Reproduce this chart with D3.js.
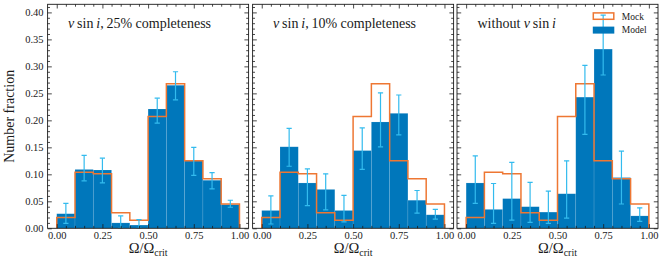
<!DOCTYPE html>
<html>
<head>
<meta charset="utf-8">
<script src="https://cdn.jsdelivr.net/npm/d3@7"></script>
<style>
  body { margin: 0; background: #fff; }
  svg { display: block; }
  text { font-family: "Liberation Serif", "DejaVu Serif", serif; fill: #1a1a1a; }
  .tick line { stroke: #1a1a1a; stroke-width: 0.8; }
  .domain { display: none; }
</style>
</head>
<body>
<script>
// bin edges and centres (Omega / Omega_crit)
var binEdges = [0.0, 0.1, 0.2, 0.3, 0.4, 0.5, 0.6, 0.7, 0.8, 0.9, 1.0];
var binCenters = [0.05, 0.15, 0.25, 0.35, 0.45, 0.55, 0.65, 0.75, 0.85, 0.95];

// mock distribution (same in every panel)
var mock = [0.020, 0.104, 0.101, 0.029, 0.015, 0.207, 0.268, 0.125, 0.092, 0.045];

// panel 1: v sin i, 25% completeness
var model25 = [0.027, 0.109, 0.108, 0.010, 0.006, 0.221, 0.265, 0.125, 0.089, 0.044];
var lo25 = [0.009, 0.088, 0.084, 0.000, 0.000, 0.195, 0.238, 0.098, 0.073, 0.039];
var hi25 = [0.046, 0.135, 0.130, 0.023, 0.016, 0.241, 0.290, 0.150, 0.103, 0.052];

// panel 2: v sin i, 10% completeness
var model10 = [0.033, 0.151, 0.084, 0.072, 0.033, 0.144, 0.197, 0.213, 0.052, 0.025];
var lo10 = [0.008, 0.115, 0.042, 0.034, 0.012, 0.109, 0.151, 0.173, 0.028, 0.017];
var hi10 = [0.060, 0.185, 0.110, 0.101, 0.061, 0.186, 0.251, 0.247, 0.070, 0.035];

// panel 3: without v sin i
var modelNo = [0.084, 0.035, 0.055, 0.040, 0.030, 0.064, 0.243, 0.332, 0.094, 0.023];
var loNo = [0.046, 0.009, 0.015, 0.011, 0.009, 0.019, 0.174, 0.284, 0.045, 0.013];
var hiNo = [0.134, 0.083, 0.122, 0.085, 0.069, 0.125, 0.302, 0.395, 0.143, 0.038];

var xMajor = [0.0, 0.25, 0.5, 0.75, 1.0];
var yMajor = [0.0, 0.05, 0.10, 0.15, 0.20, 0.25, 0.30, 0.35, 0.40];

var blue = "#0077BB", orange = "#EE7733", cyan = "#33BBEE";

var w = 664, h = 267;
var plotTop = 4.3, plotBottom = 228.3;
var panelW = 201;
var panels = [
  {left: 47.6, title: "25", model: model25, lo: lo25, hi: hi25, labels: true},
  {left: 252.6, title: "10", model: model10, lo: lo10, hi: hi10, labels: false},
  {left: 457, title: null, model: modelNo, lo: loNo, hi: hiNo, labels: false, legend: true}
];

var svg = d3.select("body").append("svg")
  .attr("width", w)
  .attr("height", h);

var y = d3.scaleLinear().domain([0, 0.415]).range([plotBottom, plotTop]);

var xMinor = d3.range(0, 21).map(function(i){ return i * 0.05; })
  .filter(function(v){ return Math.abs(v / 0.25 - Math.round(v / 0.25)) > 1e-6; });
var yMinor = d3.range(0, 42).map(function(i){ return i * 0.01; })
  .filter(function(v){ return Math.abs(v / 0.05 - Math.round(v / 0.05)) > 1e-6; });

panels.forEach(function(p, pi){
  var x = d3.scaleLinear().domain([-0.05, 1.05]).range([p.left, p.left + panelW]);
  var g = svg.append("g");

  g.append("defs").append("clipPath").attr("id", "clip" + pi)
    .append("rect").attr("x", p.left).attr("y", plotTop)
    .attr("width", panelW).attr("height", plotBottom - plotTop);

  var plot = g.append("g").attr("clip-path", "url(#clip" + pi + ")");

  // model bars
  plot.selectAll(".bar")
    .data(p.model)
    .enter()
      .append("rect")
      .attr("x", function(d, i){ return x(binEdges[i]); })
      .attr("width", function(d, i){ return x(binEdges[i + 1]) - x(binEdges[i]); })
      .attr("y", function(d){ return y(d); })
      .attr("height", function(d){ return y(0) - y(d); })
      .attr("fill", blue)
      .attr("stroke", "rgba(255,255,255,0.18)")
      .attr("stroke-width", 0.6);

  // mock step outline
  var pts = [[binEdges[0], 0]];
  mock.forEach(function(v, i){
    pts.push([binEdges[i], v]);
    pts.push([binEdges[i + 1], v]);
  });
  pts.push([binEdges[binEdges.length - 1], 0]);
  var line = d3.line()
    .x(function(d){ return x(d[0]); })
    .y(function(d){ return y(d[1]); });
  plot.append("path")
    .attr("d", line(pts))
    .attr("fill", "none")
    .attr("stroke", orange)
    .attr("stroke-width", 1.5)
    .attr("stroke-linejoin", "miter");

  // error bars
  var eb = plot.selectAll(".eb")
    .data(binCenters)
    .enter()
      .append("g");
  eb.append("line")
    .attr("x1", function(d){ return x(d); })
    .attr("x2", function(d){ return x(d); })
    .attr("y1", function(d, i){ return y(p.lo[i]); })
    .attr("y2", function(d, i){ return y(p.hi[i]); })
    .attr("stroke", cyan)
    .attr("stroke-width", 1.2);
  [p.lo, p.hi].forEach(function(arr){
    eb.append("line")
      .attr("x1", function(d){ return x(d) - 2.6; })
      .attr("x2", function(d){ return x(d) + 2.6; })
      .attr("y1", function(d, i){ return y(arr[i]); })
      .attr("y2", function(d, i){ return y(arr[i]); })
      .attr("stroke", cyan)
      .attr("stroke-width", 1.2);
  });

  // axes (inward ticks on all four sides)
  function addAxis(axisFn, scale, major, minor, transform, labels, fmt){
    g.append("g").attr("transform", transform)
      .call(axisFn(scale).tickValues(minor).tickSizeInner(-2.4).tickSizeOuter(0).tickFormat(""));
    var a = g.append("g").attr("transform", transform)
      .call(axisFn(scale).tickValues(major).tickSizeInner(-4.2).tickSizeOuter(0)
        .tickPadding(4).tickFormat(labels ? fmt : ""));
    a.selectAll("text")
      .style("font-size", "10.5px")
      .style("font-family", "'Liberation Serif', serif")
      .attr("fill", "#1a1a1a");
    return a;
  }
  var fmt2 = d3.format(".2f");
  addAxis(d3.axisBottom, x, xMajor, xMinor, "translate(0," + plotBottom + ")", true, fmt2)
    .selectAll("text").attr("dy", "0.66em");
  addAxis(d3.axisTop, x, xMajor, xMinor, "translate(0," + plotTop + ")", false, fmt2);
  addAxis(d3.axisLeft, y, yMajor, yMinor, "translate(" + p.left + ",0)", p.labels, fmt2);
  addAxis(d3.axisRight, y, yMajor, yMinor, "translate(" + (p.left + panelW) + ",0)", false, fmt2);

  g.append("rect")
    .attr("x", p.left).attr("y", plotTop)
    .attr("width", panelW).attr("height", plotBottom - plotTop)
    .attr("fill", "none").attr("stroke", "#1a1a1a").attr("stroke-width", 0.9);

  // panel title
  var t = g.append("text")
    .attr("x", p.left + 20.5)
    .attr("y", 27.5)
    .style("font-size", "14px");
  if (p.title) {
    t.append("tspan").style("font-style", "italic").text("v");
    t.append("tspan").text("\u2009sin\u2009");
    t.append("tspan").style("font-style", "italic").text("i");
    t.append("tspan").text(",\u2009" + p.title + "% completeness");
  } else {
    t.append("tspan").text("without ");
    t.append("tspan").style("font-style", "italic").text("v");
    t.append("tspan").text("\u2009sin\u2009");
    t.append("tspan").style("font-style", "italic").text("i");
  }

  // x label
  var xl = g.append("text")
    .attr("x", p.left + panelW / 2)
    .attr("y", 252.5)
    .attr("text-anchor", "middle")
    .style("font-size", "14.5px");
  xl.append("tspan").text("\u03A9/\u03A9");
  xl.append("tspan").attr("dy", 3.2).style("font-size", "10px").text("crit");

  if (p.legend) {
    var lx = p.left + 136.3;
    g.append("rect")
      .attr("x", lx).attr("y", 12.9).attr("width", 20.5).attr("height", 6.4)
      .attr("fill", "none").attr("stroke", orange).attr("stroke-width", 1.5);
    g.append("rect")
      .attr("x", lx - 0.5).attr("y", 26.6).attr("width", 21.5).attr("height", 7)
      .attr("fill", blue);
    g.append("text").attr("x", lx + 28.5).attr("y", 19.6)
      .style("font-size", "9.5px").text("Mock");
    g.append("text").attr("x", lx + 28.5).attr("y", 33.4)
      .style("font-size", "9.5px").text("Model");
  }
});

// shared y label
svg.append("text")
  .attr("text-anchor", "middle")
  .attr("transform", "translate(14," + ((plotTop + plotBottom) / 2) + ") rotate(-90)")
  .style("font-size", "14px")
  .text("Number fraction");
</script>
</body>
</html>
